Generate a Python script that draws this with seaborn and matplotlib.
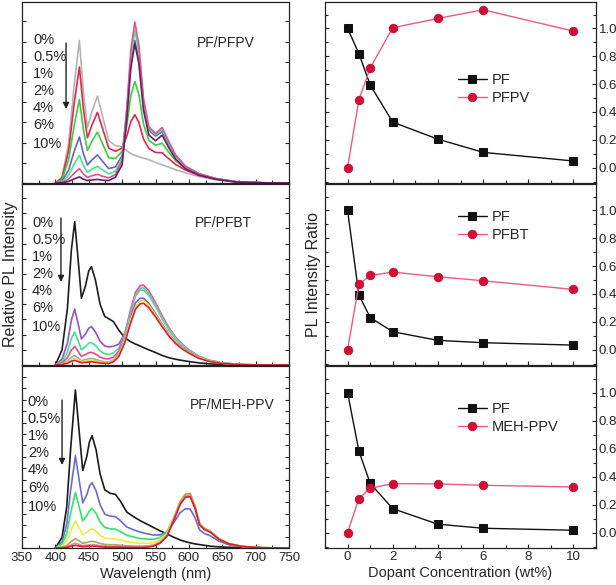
import matplotlib
matplotlib.use('Agg')
import matplotlib.pyplot as plt
from matplotlib.ticker import MultipleLocator, FormatStrFormatter
import seaborn as sns
import pandas as pd
import numpy as np

# ---- data ----
conc_labels = ['0%', '0.5%', '1%', '2%', '4%', '6%', '10%']
dopant_wt = [0, 0.5, 1, 2, 4, 6, 10]

# PF/PFPV spectra (arb. units)
pfpv_nm = [400, 410, 420, 428, 436, 442, 448, 455, 463, 470, 480, 490, 500, 507, 513,
           519, 525, 532, 540, 550, 560, 570, 580, 595, 615, 640, 670, 710, 750]
pfpv_00 = [0, 0.3, 2.0, 4.8, 7.06, 4.5, 2.75, 3.55, 4.3, 3.4, 2.1, 1.85, 1.8, 1.6, 1.45,
           1.37, 1.3, 1.23, 1.15, 1.02, 0.9, 0.78, 0.66, 0.5, 0.32, 0.16, 0.05, 0.01, 0]
pfpv_05 = [0, 0.24, 1.62, 3.90, 5.74, 3.66, 2.24, 2.89, 3.50, 2.77, 1.72, 1.57, 1.73, 2.32, 3.04,
           3.38, 3.01, 2.18, 1.71, 1.51, 1.50, 1.20, 0.92, 0.64, 0.38, 0.19, 0.06, 0.01, 0]
pfpv_1 = [0, 0.17, 1.17, 2.82, 4.14, 2.64, 1.61, 2.08, 2.52, 2.00, 1.25, 1.21, 1.57, 2.84, 4.32,
          5.03, 4.40, 2.92, 2.11, 1.87, 1.97, 1.52, 1.11, 0.71, 0.42, 0.21, 0.06, 0.01, 0]
pfpv_2 = [0, 0.10, 0.65, 1.55, 2.28, 1.45, 0.89, 1.15, 1.39, 1.10, 0.71, 0.80, 1.37, 3.50, 5.90,
          7.06, 6.11, 3.84, 2.62, 2.32, 2.54, 1.91, 1.34, 0.82, 0.46, 0.22, 0.07, 0.01, 0]
pfpv_4 = [0, 0.06, 0.39, 0.93, 1.37, 0.87, 0.53, 0.69, 0.83, 0.66, 0.45, 0.58, 1.22, 3.59, 6.26,
          7.56, 6.52, 4.03, 2.70, 2.39, 2.65, 1.97, 1.37, 0.83, 0.46, 0.21, 0.07, 0.01, 0]
pfpv_6 = [0, 0.03, 0.20, 0.48, 0.71, 0.45, 0.28, 0.36, 0.43, 0.34, 0.25, 0.42, 1.12, 3.68, 6.57,
          7.97, 6.86, 4.19, 2.78, 2.45, 2.75, 2.04, 1.40, 0.83, 0.46, 0.22, 0.06, 0.01, 0]
pfpv_10 = [0, 0.01, 0.08, 0.20, 0.30, 0.19, 0.12, 0.15, 0.18, 0.14, 0.12, 0.29, 0.90, 3.15, 5.67,
           6.90, 5.94, 3.61, 2.38, 2.09, 2.37, 1.74, 1.19, 0.70, 0.39, 0.19, 0.05, 0.01, 0]

# PF/PFBT spectra
pfbt_nm = [400, 410, 418, 424, 429, 434, 439, 445, 450, 454, 460, 467, 474, 480, 487, 495, 504,
           512, 520, 527, 532, 540, 550, 560, 570, 580, 590, 600, 615, 630, 650, 680, 710, 750]
pfbt_00 = [0, 1.0, 3.7, 7.6, 9.45, 7.0, 4.4, 5.2, 6.2, 6.48, 5.6, 4.0, 3.2, 3.05, 2.86, 2.3, 1.8,
           1.55, 1.38, 1.25, 1.15, 1.0, 0.82, 0.63, 0.48, 0.38, 0.3, 0.23, 0.14, 0.08, 0.03, 0.01, 0, 0]
pfbt_05 = [0, 0.39, 1.44, 2.96, 3.69, 2.73, 1.72, 2.03, 2.42, 2.53, 2.18, 1.56, 1.25, 1.19, 1.24, 1.37, 2.08,
           3.17, 4.10, 4.40, 4.40, 4.06, 3.40, 2.70, 2.05, 1.53, 1.15, 0.84, 0.48, 0.27, 0.11, 0.02, 0, 0]
pfbt_1 = [0, 0.23, 0.85, 1.75, 2.17, 1.61, 1.01, 1.20, 1.43, 1.49, 1.29, 0.92, 0.74, 0.70, 0.80, 1.09, 2.05,
          3.41, 4.54, 4.93, 4.95, 4.59, 3.85, 3.05, 2.31, 1.73, 1.29, 0.94, 0.55, 0.30, 0.13, 0.03, 0, 0]
pfbt_2 = [0, 0.13, 0.48, 0.99, 1.23, 0.91, 0.57, 0.68, 0.81, 0.84, 0.73, 0.52, 0.42, 0.40, 0.52, 0.91, 2.02,
          3.53, 4.79, 5.23, 5.27, 4.89, 4.10, 3.25, 2.47, 1.84, 1.37, 1.00, 0.58, 0.32, 0.13, 0.03, 0, 0]
pfbt_4 = [0, 0.07, 0.25, 0.51, 0.63, 0.47, 0.29, 0.35, 0.42, 0.43, 0.38, 0.27, 0.21, 0.20, 0.34, 0.75, 1.88,
          3.36, 4.61, 5.05, 5.10, 4.74, 3.97, 3.15, 2.39, 1.79, 1.33, 0.97, 0.56, 0.31, 0.13, 0.03, 0, 0]
pfbt_6 = [0, 0.05, 0.19, 0.38, 0.47, 0.35, 0.22, 0.26, 0.31, 0.32, 0.28, 0.20, 0.16, 0.15, 0.27, 0.62, 1.56,
          2.80, 3.84, 4.21, 4.25, 3.95, 3.31, 2.63, 1.99, 1.49, 1.11, 0.81, 0.47, 0.25, 0.11, 0.02, 0, 0]
pfbt_10 = [0, 0.03, 0.12, 0.25, 0.31, 0.23, 0.15, 0.17, 0.20, 0.21, 0.18, 0.13, 0.11, 0.10, 0.21, 0.56, 1.47,
           2.67, 3.68, 4.03, 4.07, 3.78, 3.17, 2.52, 1.91, 1.42, 1.06, 0.78, 0.44, 0.24, 0.10, 0.02, 0, 0]

# PF/MEH-PPV spectra
meh_nm = [400, 410, 417, 423, 430, 436, 441, 447, 451, 455, 461, 467, 474, 482, 490, 497, 507, 517,
          527, 537, 547, 557, 567, 577, 587, 595, 602, 609, 616, 623, 632, 645, 660, 680, 710, 750]
meh_00 = [0, 0.95, 3.6, 8.8, 13.86, 10.0, 6.8, 8.0, 9.3, 9.85, 8.6, 6.5, 5.1, 4.8, 4.7, 4.15, 3.15, 2.75,
          2.4, 2.1, 1.8, 1.5, 1.23, 0.95, 0.7, 0.55, 0.45, 0.36, 0.3, 0.24, 0.16, 0.1, 0.06, 0.03, 0.01, 0]
meh_05 = [0, 0.55, 2.10, 5.13, 8.08, 5.83, 3.96, 4.66, 5.42, 5.74, 5.01, 3.79, 2.97, 2.80, 2.74, 2.42, 1.84, 1.60,
          1.40, 1.25, 1.14, 1.15, 1.42, 2.19, 3.10, 3.45, 3.42, 2.67, 1.59, 1.28, 1.07, 0.60, 0.28, 0.11, 0.03, 0]
meh_1 = [0, 0.33, 1.27, 3.10, 4.88, 3.52, 2.39, 2.82, 3.27, 3.47, 3.03, 2.29, 1.80, 1.69, 1.65, 1.46, 1.11, 0.97,
         0.84, 0.78, 0.76, 0.93, 1.40, 2.61, 3.98, 4.54, 4.55, 3.55, 2.09, 1.66, 1.42, 0.79, 0.37, 0.14, 0.02, 0]
meh_2 = [0, 0.16, 0.62, 1.50, 2.37, 1.71, 1.16, 1.37, 1.59, 1.68, 1.47, 1.11, 0.87, 0.82, 0.80, 0.71, 0.54, 0.47,
         0.41, 0.41, 0.45, 0.68, 1.25, 2.61, 4.13, 4.76, 4.80, 3.74, 2.17, 1.74, 1.49, 0.82, 0.39, 0.14, 0.02, 0]
meh_4 = [0, 0.06, 0.22, 0.53, 0.83, 0.60, 0.41, 0.48, 0.56, 0.59, 0.52, 0.39, 0.31, 0.29, 0.28, 0.25, 0.19, 0.17,
         0.14, 0.18, 0.25, 0.52, 1.11, 2.52, 4.07, 4.72, 4.77, 3.72, 2.15, 1.72, 1.48, 0.82, 0.38, 0.14, 0.02, 0]
meh_6 = [0, 0.03, 0.11, 0.27, 0.43, 0.31, 0.21, 0.25, 0.29, 0.31, 0.27, 0.20, 0.16, 0.15, 0.15, 0.13, 0.10, 0.09,
         0.07, 0.12, 0.20, 0.47, 1.06, 2.43, 3.95, 4.59, 4.63, 3.61, 2.09, 1.67, 1.43, 0.79, 0.37, 0.14, 0.02, 0]
meh_10 = [0, 0.02, 0.06, 0.15, 0.24, 0.17, 0.12, 0.14, 0.16, 0.17, 0.15, 0.11, 0.09, 0.08, 0.08, 0.07, 0.05, 0.05,
          0.04, 0.08, 0.16, 0.43, 1.01, 2.35, 3.83, 4.46, 4.50, 3.51, 2.03, 1.62, 1.39, 0.76, 0.36, 0.13, 0.02, 0]

# PL intensity ratios
pfpv_pf = [1.0, 0.82, 0.594, 0.327, 0.205, 0.11, 0.048]
pfpv_dop = [0.0, 0.487, 0.716, 1.005, 1.072, 1.134, 0.981]
pfbt_pf = [1.0, 0.393, 0.231, 0.129, 0.067, 0.05, 0.033]
pfbt_dop = [0.0, 0.469, 0.533, 0.557, 0.524, 0.495, 0.433]
meh_pf = [1.0, 0.583, 0.352, 0.171, 0.06, 0.031, 0.017]
meh_dop = [0.0, 0.243, 0.317, 0.35, 0.348, 0.338, 0.326]

panels = [
    ('PF/PFPV', 'PFPV', pfpv_nm, [pfpv_00, pfpv_05, pfpv_1, pfpv_2, pfpv_4, pfpv_6, pfpv_10],
     ['#b4b4b4', '#e0284a', '#3ccc3c', '#6464c8', '#46e68c', '#e8508c', '#6a1e6a'], pfpv_pf, pfpv_dop),
    ('PF/PFBT', 'PFBT', pfbt_nm, [pfbt_00, pfbt_05, pfbt_1, pfbt_2, pfbt_4, pfbt_6, pfbt_10],
     ['#1e1e1e', '#9a50c8', '#3ce68c', '#e84a8a', '#8cb4b4', '#e6dc50', '#dc1e32'], pfbt_pf, pfbt_dop),
    ('PF/MEH-PPV', 'MEH-PPV', meh_nm, [meh_00, meh_05, meh_1, meh_2, meh_4, meh_6, meh_10],
     ['#1a1a1a', '#6a6ad6', '#32e664', '#ecec3c', '#a0aa64', '#e68caa', '#dc1e1e'], meh_pf, meh_dop),
]

# ---- layout (pixels of the 616x585 reference) ----
W, H = 616, 585
rows_px = [(2, 183), (184, 365), (366, 548)]
ylims = [8.96, 11.93, 15.96]
label_x = [0.041, 0.037, 0.022]
label_y0 = [0.790, 0.785, 0.802]
arrow_x = [0.165, 0.146, 0.150]
arrow_y = [(0.773, 0.409), (0.812, 0.459), (0.813, 0.456)]
title_pos = [(0.655, 0.773), (0.648, 0.785), (0.629, 0.786)]
legend_y = [0.605, 0.855, 0.80]

sns.set_style('ticks')
plt.rcParams['font.family'] = ['Liberation Sans', 'DejaVu Sans']
plt.rcParams['axes.linewidth'] = 0.9
plt.rcParams['axes.edgecolor'] = '#222222'

fig = plt.figure(figsize=(W / 100, H / 100), dpi=100)

for i, (name, dop, nm, curves, colors, r_pf, r_dop) in enumerate(panels):
    top, bot = rows_px[i]
    # left: spectra
    axl = fig.add_axes([22 / W, 1 - bot / H, 267 / W, (bot - top) / H])
    df = pd.concat([pd.DataFrame({'nm': nm, 'I': c, 'conc': lab})
                    for c, lab in zip(curves, conc_labels)], ignore_index=True)
    sns.lineplot(data=df, x='nm', y='I', hue='conc', hue_order=conc_labels,
                 palette=dict(zip(conc_labels, colors)), legend=False, ax=axl,
                 linewidth=1.2, estimator=None)
    axl.set_xlim(350, 750)
    axl.set_ylim(0, ylims[i])
    axl.xaxis.set_major_locator(MultipleLocator(50))
    axl.xaxis.set_minor_locator(MultipleLocator(25))
    axl.yaxis.set_major_locator(MultipleLocator(1))
    axl.tick_params(axis='both', which='both', direction='in', left=True, right=True,
                    bottom=True, top=False, labelleft=False, length=3, width=0.8)
    axl.tick_params(axis='x', which='minor', length=2)
    axl.set_ylabel('')
    axl.set_xlabel('')
    if i < 2:
        axl.tick_params(axis='x', labelbottom=False)
    else:
        axl.tick_params(axis='x', labelsize=9.5, pad=3)
        axl.set_xlabel('Wavelength (nm)', fontsize=10.5, labelpad=2)
    if i == 1:
        axl.set_ylabel('Relative PL Intensity', fontsize=11.5, labelpad=3)
    for k, lab in enumerate(conc_labels):
        y = label_y0[i] - k * 0.094 - (0.01 if k == 6 else 0)
        axl.text(label_x[i], y, lab, transform=axl.transAxes, fontsize=10.5,
                 va='center', ha='left')
    axl.annotate('', xy=(arrow_x[i], arrow_y[i][1]), xytext=(arrow_x[i], arrow_y[i][0]),
                 xycoords='axes fraction',
                 arrowprops=dict(arrowstyle='-|>', color='#222222', lw=1.0,
                                 mutation_scale=9, shrinkA=0, shrinkB=0))
    axl.text(title_pos[i][0], title_pos[i][1], name, transform=axl.transAxes,
             fontsize=10, va='center', ha='left')

    # right: intensity ratio
    axr = fig.add_axes([325 / W, 1 - bot / H, 271 / W, (bot - top) / H])
    sns.lineplot(x=dopant_wt, y=r_pf, ax=axr, color='#111111', marker='s', markersize=5.5,
                 markeredgecolor='#111111', linewidth=1.0, label='PF')
    sns.lineplot(x=dopant_wt, y=r_dop, ax=axr, color='#ec5a80', marker='o', markersize=6,
                 markerfacecolor='#cf0f36', markeredgecolor='#cf0f36', linewidth=1.0, label=dop)
    axr.set_xlim(-1, 11)
    axr.set_ylim(-0.11, 1.19)
    axr.xaxis.set_major_locator(MultipleLocator(2))
    axr.xaxis.set_minor_locator(MultipleLocator(1))
    axr.yaxis.set_major_locator(MultipleLocator(0.2))
    axr.yaxis.set_minor_locator(MultipleLocator(0.1))
    axr.tick_params(axis='both', which='both', direction='in', left=True, right=True,
                    bottom=True, top=False, labelleft=False, labelright=True,
                    length=3, width=0.8, labelsize=9.5, pad=2)
    axr.tick_params(which='minor', length=2)
    axr.yaxis.set_major_formatter(FormatStrFormatter('%.1f'))
    if i < 2:
        axr.tick_params(axis='x', labelbottom=False)
    else:
        axr.set_xlabel('Dopant Concentration (wt%)', fontsize=10.5, labelpad=2)
    if i == 1:
        axr.set_ylabel('PL Intensity Ratio', fontsize=11.5, labelpad=3)
    axr.legend(loc='upper left', bbox_to_anchor=(0.49, legend_y[i]), frameon=False,
               fontsize=10.5, handlelength=2.0, handletextpad=0.3, labelspacing=0.25,
               borderaxespad=0, borderpad=0)

fig.savefig('out.png', dpi=100)
